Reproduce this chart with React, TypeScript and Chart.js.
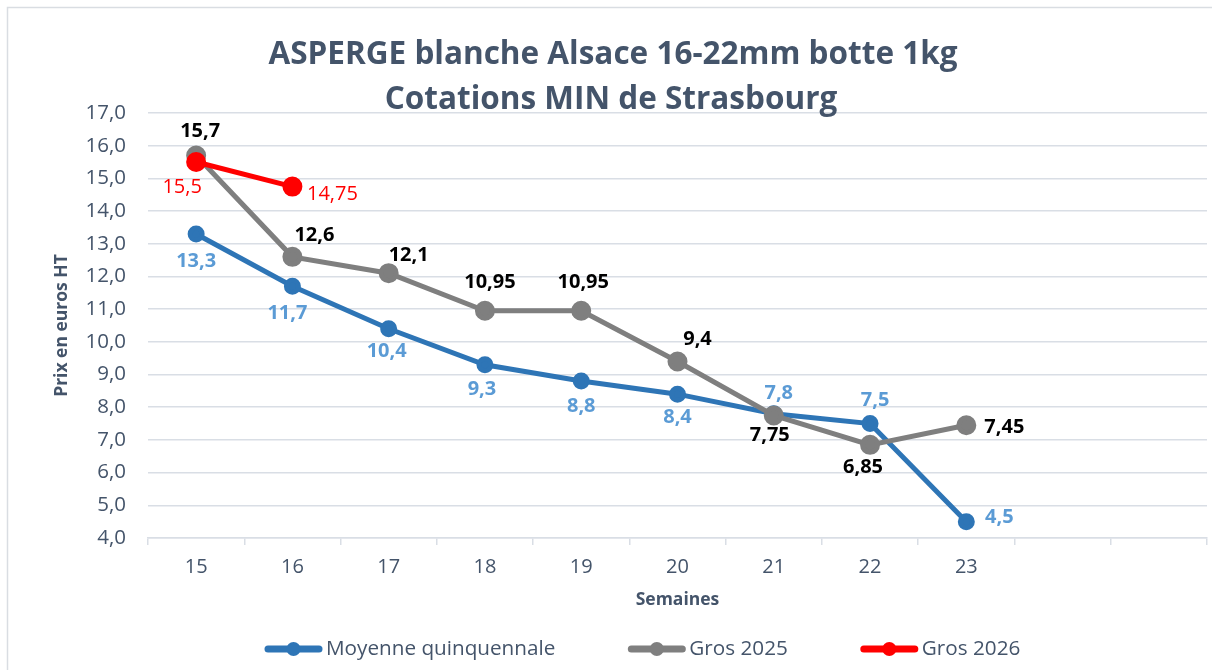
import React, { useEffect, useRef } from "react";
import { Chart, registerables } from "chart.js";

Chart.register(...registerables);

// ---------- data ----------
const weeks = ["15", "16", "17", "18", "19", "20", "21", "22", "23", "", ""];
const moyenneQuinquennale = [13.3, 11.7, 10.4, 9.3, 8.8, 8.4, 7.8, 7.5, 4.5, null, null];
const gros2025 = [15.7, 12.6, 12.1, 10.95, 10.95, 9.4, 7.75, 6.85, 7.45, null, null];
const gros2026 = [15.5, 14.75, null, null, null, null, null, null, null, null, null];
const seriesNames = ["Moyenne quinquennale", "Gros 2025", "Gros 2026"];
const titleLines = ["ASPERGE blanche Alsace 16-22mm botte 1kg", "Cotations MIN de Strasbourg"];
const xTitle = "Semaines";
const yTitle = "Prix en euros HT";
const yMin = 4;
const yMax = 17;
const yStep = 1;

// ---------- styles ----------
const FONT = "'Open Sans', 'Noto Sans', sans-serif";
const TEXT = "#44546A";
const GRID = "#D9DEE5";
const colors = ["#2E75B6", "#7F7F7F", "#FF0000"];
const labelColors = ["#5B9BD5", "#000000", "#FF0000"];
const labelWeights = ["bold", "bold", "normal"];
const pointRadii = [6, 7.5, 7.5];
// label offsets (dx, dy) relative to each point
const labelOffsets = [
  [[0, 27], [-5, 27], [-2, 23], [-3, 25], [0, 25], [0, 23], [5, -20], [5, -23], [33, -4]],
  [[4, -24], [22, -22], [20, -18], [5, -28], [2, -28], [20, -22], [-4, 20], [-7, 22], [38, 2]],
  [[-14, 25], [40, 8]],
];

const fmt = (v: number) => String(v).replace(".", ",");

const decorPlugin = {
  id: "decor",
  beforeDraw(chart: any) {
    const ctx = chart.ctx;
    ctx.save();
    ctx.fillStyle = "#ffffff";
    ctx.fillRect(0, 0, chart.width, chart.height);
    ctx.strokeStyle = "#D9DDE2";
    ctx.lineWidth = 1.5;
    ctx.strokeRect(7.5, 7.5, chart.width + 50, chart.height + 50);
    ctx.restore();
  },
  afterDatasetsDraw(chart: any) {
    const ctx = chart.ctx;
    ctx.save();
    ctx.textAlign = "center";
    ctx.textBaseline = "middle";
    chart.data.datasets.forEach((ds: any, i: number) => {
      const meta = chart.getDatasetMeta(i);
      ctx.fillStyle = labelColors[i];
      ctx.font = `${labelWeights[i]} 20px ${FONT}`;
      ds.data.forEach((v: any, j: number) => {
        if (v === null || v === undefined) return;
        const el = meta.data[j];
        const off = (labelOffsets[i] && labelOffsets[i][j]) || [0, -20];
        ctx.fillText(fmt(v), el.x + off[0], el.y + off[1]);
      });
    });
    ctx.restore();
  },
  afterDraw(chart: any) {
    const ctx = chart.ctx;
    ctx.save();
    // title
    ctx.fillStyle = TEXT;
    ctx.textAlign = "center";
    ctx.textBaseline = "alphabetic";
    ctx.font = `bold 31.5px ${FONT}`;
    ctx.fillText(titleLines[0], 613, 64);
    ctx.fillText(titleLines[1], 611, 109);
    // legend
    ctx.font = `20.7px ${FONT}`;
    ctx.textAlign = "left";
    ctx.textBaseline = "middle";
    let x = 265;
    const y = 649;
    seriesNames.forEach((name, i) => {
      ctx.strokeStyle = colors[i];
      ctx.lineWidth = 7;
      ctx.lineCap = "round";
      ctx.beginPath();
      ctx.moveTo(x + 3, y);
      ctx.lineTo(x + 54, y);
      ctx.stroke();
      ctx.fillStyle = colors[i];
      ctx.beginPath();
      ctx.arc(x + 28.5, y, 7, 0, Math.PI * 2);
      ctx.fill();
      ctx.fillStyle = TEXT;
      ctx.fillText(name, x + 61, y);
      x += 61 + ctx.measureText(name).width + 73;
    });
    ctx.restore();
  },
};

export default function App() {
  const ref = useRef<HTMLCanvasElement | null>(null);
  useEffect(() => {
    document.body.style.margin = "0";
    const canvas = ref.current;
    if (!canvas) return;
    const series = [moyenneQuinquennale, gros2025, gros2026];
    const chart = new Chart(canvas, {
      type: "line",
      data: {
        labels: weeks,
        datasets: series.map((d, i) => ({
          label: seriesNames[i],
          data: d,
          borderColor: colors[i],
          backgroundColor: colors[i],
          pointBackgroundColor: colors[i],
          pointBorderColor: colors[i],
          borderWidth: 5,
          pointRadius: pointRadii[i],
          pointHoverRadius: pointRadii[i],
          fill: false,
          tension: 0,
          order: 3 - i,
        })),
      },
      options: {
        responsive: false,
        animation: false,
        devicePixelRatio: 1,
        layout: { autoPadding: false, padding: { top: 113, right: 5, bottom: 0, left: 0 } },
        plugins: {
          legend: { display: false },
          title: { display: false },
          tooltip: { enabled: false },
        },
        scales: {
          x: {
            offset: true,
            grid: {
              display: true,
              offset: true,
              drawOnChartArea: false,
              drawTicks: true,
              tickLength: 7,
              color: GRID,
              lineWidth: 1.5,
            },
            border: { display: true, color: GRID, width: 1.5 },
            ticks: {
              color: TEXT,
              font: { family: FONT, size: 20 },
              padding: 10,
              maxRotation: 0,
              autoSkip: false,
            },
            title: {
              display: true,
              text: xTitle,
              color: TEXT,
              font: { family: FONT, size: 17.5, weight: "bold" },
              padding: { top: 0, bottom: 59 },
            },
            afterFit: (s: any) => {
              s.height = 132;
              s.paddingLeft = 0;
              s.paddingRight = 0;
            },
          },
          y: {
            min: yMin,
            max: yMax,
            ticks: {
              stepSize: yStep,
              color: TEXT,
              font: { family: FONT, size: 20.5 },
              padding: 22,
              callback: (v: any) => Number(v).toFixed(1).replace(".", ","),
            },
            grid: { color: GRID, lineWidth: 1.5, drawTicks: false },
            border: { display: false },
            title: {
              display: true,
              text: yTitle,
              color: TEXT,
              font: { family: FONT, size: 17.5, weight: "bold" },
              padding: { top: 52, bottom: 0 },
            },
            afterFit: (s: any) => {
              s.width = 148;
            },
          },
        },
      } as any,
      plugins: [decorPlugin],
    });
    return () => chart.destroy();
  }, []);
  return (
    <div style={{ width: 1212, height: 670 }}>
      <canvas ref={ref} width={1212} height={670} style={{ display: "block" }} />
    </div>
  );
}
